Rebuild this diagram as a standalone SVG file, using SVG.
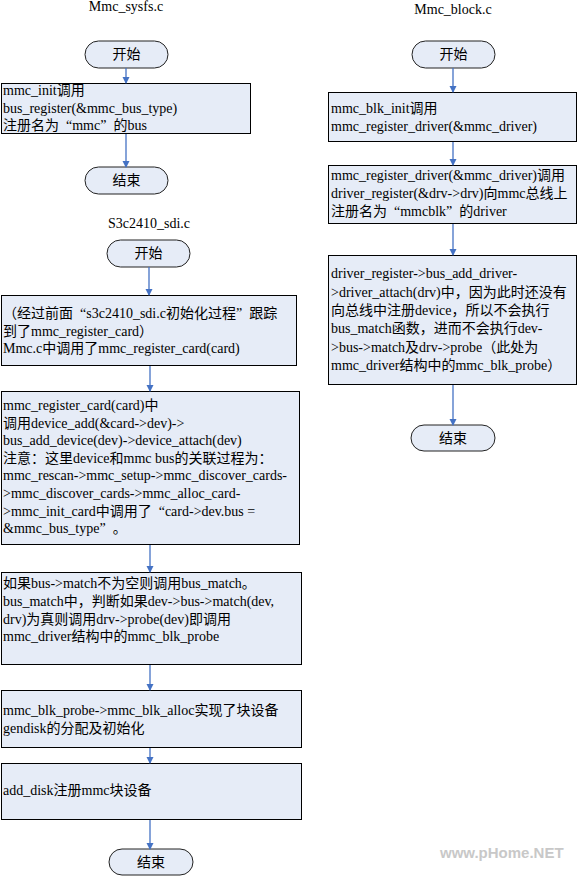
<svg xmlns="http://www.w3.org/2000/svg" width="578" height="876" viewBox="0 0 578 876">
<defs>
<style>
.bg{fill:#ffffff}
.box{fill:#e6ecf7;stroke:#000;stroke-width:1}
.term{fill:#e6ecf7;stroke:#222;stroke-width:1}
.t{font-family:"Liberation Serif","Noto Sans CJK SC",serif;font-size:14px;fill:#000}
.c{text-anchor:middle}
.ttl{font-family:"Liberation Serif","Noto Sans CJK SC",serif;font-size:14px;fill:#000;text-anchor:middle}
.conn line{stroke:#4472c4;stroke-width:1.3;marker-end:url(#ah)}
.wm{font-family:"Liberation Sans",sans-serif;font-size:15px;font-weight:bold;fill:#c8c8c8}
</style>
<marker id="ah" markerWidth="8" markerHeight="8" refX="6" refY="3.5" orient="auto" markerUnits="userSpaceOnUse">
<path d="M0,0 L7,3.5 L0,7 Z" fill="#4472c4"/>
</marker>
</defs>
<rect class="bg" x="0" y="0" width="578" height="876"/>

<text class="ttl" x="126" y="11">Mmc_sysfs.c</text>
<text class="ttl" x="149" y="228">S3c2410_sdi.c</text>
<text class="ttl" x="453" y="14">Mmc_block.c</text>

<g id="l_start1"><rect class="term" x="85" y="41" width="83" height="27" rx="13.5"/><text class="t c" x="126.5" y="59">开始</text></g>
<g id="l_box1"><rect class="box" x="1.5" y="83.5" width="249" height="50"/>
<text class="t" x="3" y="95">mmc_init调用</text>
<text class="t" x="3" y="113">bus_register(&amp;mmc_bus_type)</text>
<text class="t" x="3" y="130">注册名为<tspan dx="7">“</tspan>mmc”<tspan dx="7">的bus</tspan></text></g>
<g id="l_end1"><rect class="term" x="85" y="167" width="83" height="27" rx="13.5"/><text class="t c" x="126.5" y="185">结束</text></g>

<g id="l_start2"><rect class="term" x="107" y="240" width="83" height="27" rx="13.5"/><text class="t c" x="148.5" y="258">开始</text></g>
<g id="l_box2"><rect class="box" x="1.5" y="295.5" width="295" height="70"/>
<text class="t" x="3" y="318">（经过前面<tspan dx="7">“</tspan>s3c2410_sdi.c初始化过程”<tspan dx="7">跟踪</tspan></text>
<text class="t" x="3" y="336">到了mmc_register_card）</text>
<text class="t" x="3" y="353">Mmc.c中调用了mmc_register_card(card)</text></g>
<g id="l_box3"><rect class="box" x="1.5" y="391.5" width="298" height="153"/>
<text class="t" x="3" y="410">mmc_register_card(card)中</text>
<text class="t" x="3" y="427.6">调用device_add(&amp;card-&gt;dev)-&gt;</text>
<text class="t" x="3" y="445.2">bus_add_device(dev)-&gt;device_attach(dev)</text>
<text class="t" x="3" y="462.8">注意：这里device和mmc bus的关联过程为：</text>
<text class="t" x="3" y="480.4">mmc_rescan-&gt;mmc_setup-&gt;mmc_discover_cards-</text>
<text class="t" x="3" y="498">&gt;mmc_discover_cards-&gt;mmc_alloc_card-</text>
<text class="t" x="3" y="515.6">&gt;mmc_init_card中调用了<tspan dx="7">“</tspan>card-&gt;dev.bus =</text>
<text class="t" x="3" y="533.2">&amp;mmc_bus_type”<tspan dx="7">。</tspan></text></g>
<g id="l_box4"><rect class="box" x="1.5" y="572.5" width="300" height="92"/>
<text class="t" x="3" y="588">如果bus-&gt;match不为空则调用bus_match。</text>
<text class="t" x="3" y="606">bus_match中，判断如果dev-&gt;bus-&gt;match(dev,</text>
<text class="t" x="3" y="623.5">drv)为真则调用drv-&gt;probe(dev)即调用</text>
<text class="t" x="3" y="641">mmc_driver结构中的mmc_blk_probe</text></g>
<g id="l_box5"><rect class="box" x="1.5" y="690.5" width="300" height="57"/>
<text class="t" x="3" y="715">mmc_blk_probe-&gt;mmc_blk_alloc实现了块设备</text>
<text class="t" x="3" y="733">gendisk的分配及初始化</text></g>
<g id="l_box6"><rect class="box" x="1.5" y="763.5" width="300" height="56"/>
<text class="t" x="3" y="795">add_disk注册mmc块设备</text></g>
<g id="l_end2"><rect class="term" x="109" y="849" width="84" height="26" rx="13"/><text class="t c" x="151" y="867">结束</text></g>

<g id="r_start"><rect class="term" x="412" y="41" width="83" height="27" rx="13.5"/><text class="t c" x="453.5" y="59">开始</text></g>
<g id="r_box1"><rect class="box" x="328.5" y="92.5" width="248" height="49"/>
<text class="t" x="331" y="113">mmc_blk_init调用</text>
<text class="t" x="331" y="131">mmc_register_driver(&amp;mmc_driver)</text></g>
<g id="r_box2"><rect class="box" x="328.5" y="165.5" width="248" height="58"/>
<text class="t" x="331" y="180">mmc_register_driver(&amp;mmc_driver)调用</text>
<text class="t" x="331" y="198">driver_register(&amp;drv-&gt;drv)向mmc总线上</text>
<text class="t" x="331" y="216">注册名为<tspan dx="7">“</tspan>mmcblk”<tspan dx="7">的driver</tspan></text></g>
<g id="r_box3"><rect class="box" x="328.5" y="255.5" width="248" height="129"/>
<text class="t" x="331" y="278">driver_register-&gt;bus_add_driver-</text>
<text class="t" x="331" y="296.5">&gt;driver_attach(drv)中，因为此时还没有</text>
<text class="t" x="331" y="315">向总线中注册device，所以不会执行</text>
<text class="t" x="331" y="333">bus_match函数，进而不会执行dev-</text>
<text class="t" x="331" y="351.5">&gt;bus-&gt;match及drv-&gt;probe（此处为</text>
<text class="t" x="331" y="370">mmc_driver结构中的mmc_blk_probe）</text></g>
<g id="r_end"><rect class="term" x="411" y="425" width="84" height="26" rx="13"/><text class="t c" x="453" y="443">结束</text></g>

<g id="connectors" class="conn">
<line x1="126" y1="68" x2="126" y2="83"/>
<line x1="126" y1="134" x2="126" y2="167"/>
<line x1="149" y1="267" x2="149" y2="295"/>
<line x1="150" y1="366" x2="150" y2="391"/>
<line x1="150" y1="545" x2="150" y2="572"/>
<line x1="150" y1="665" x2="150" y2="690"/>
<line x1="150" y1="748" x2="150" y2="763"/>
<line x1="150" y1="820" x2="150" y2="849"/>
<line x1="453" y1="68" x2="453" y2="92"/>
<line x1="453" y1="142" x2="453" y2="165"/>
<line x1="453" y1="224" x2="453" y2="255"/>
<line x1="453" y1="385" x2="453" y2="425"/>
</g>
<text class="wm" x="440" y="858">www.pHome.NET</text>
</svg>
